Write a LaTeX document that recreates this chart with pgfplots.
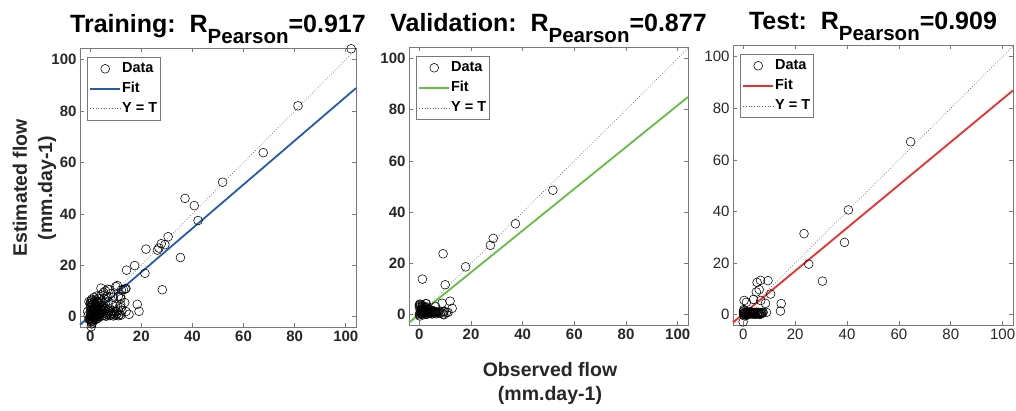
\documentclass[border=0pt]{standalone}
\usepackage{fontspec}
\setmainfont{Liberation Sans}
\usepackage{pgfplots}
\pgfplotsset{compat=1.18}

\definecolor{fitblue}{RGB}{35,90,175}
\definecolor{fitgreen}{RGB}{100,190,65}
\definecolor{fitred}{RGB}{240,45,45}
\definecolor{axgray}{RGB}{120,120,120}
\definecolor{txtgray}{RGB}{38,38,38}

\pgfplotsset{
  regr/.style={
    scale only axis,
    xmin=-4, xmax=104, ymin=-4, ymax=104.5,
    xtick={0,20,...,100}, ytick={0,20,...,100},
    axis line style={axgray, line width=0.6pt},
    major tick style={axgray, line width=0.6pt},
    major tick length=4pt,
    tick label style={font=\fontsize{15}{15}\selectfont\bfseries, text=txtgray},
    /pgf/number format/assume math mode=true,
    clip=false,
    title style={at={(0.5,1)}, anchor=base, yshift=9.5pt,
      font=\fontsize{25}{25}\selectfont\bfseries},
    legend style={at={(0,1)}, anchor=north west, xshift=7pt, yshift=-9pt,
      draw=axgray, line width=0.6pt, inner xsep=2pt, inner ysep=3.5pt,
      row sep=4pt,
      font=\fontsize{14.5}{14.5}\selectfont\bfseries,
      nodes={inner sep=1pt, text height=11pt, text depth=3pt}},
    legend cell align=left,
    legend image code/.code={\draw[mark repeat=2,mark phase=2,##1]
      plot coordinates {(0pt,0pt) (15pt,0pt) (30pt,0pt)};},
  },
  datamk/.style={only marks, mark=o, mark size=4.4pt,
    mark options={black, line width=0.55pt}},
  ytline/.style={black!65, line width=0.6pt, dash pattern=on 0.7pt off 2pt},
}

\newcommand{\rp}{R\raisebox{-11pt}{\fontsize{20.5}{20.5}\selectfont Pearson}}

\begin{document}
\begin{tikzpicture}
\useasboundingbox (0,0) rectangle (1016pt,410pt);

% ---------- Training ----------
\begin{axis}[regr, at={(80pt,83pt)}, anchor=south west,
  width=276pt, height=279pt,
  title={Training:\ \ \rp=0.917}]
\addplot[datamk] coordinates {
  (102.1,104.2) (81.3,82.0) (67.7,63.8) (51.8,52.3) (37.1,46.0) (40.7,43.2)
  (42.2,37.4) (35.3,23.0) (30.5,31.1) (29.2,28.0) (27.8,28.4) (26.9,26.7)
  (26.3,25.9) (21.8,26.3) (21.4,16.9) (17.4,19.9) (14.2,18.1) (28.2,10.5)
  (13.7,10.8) (10.6,12.1) (18.4,4.8) (19.1,2.1) (15.2,0.9) (12.4,2.3)
  (11.9,4.6) (11.9,7.8) (12.2,10.4) (10.0,11.7) (4.2,11.1) (6.8,10.7)
  (0.4,-3.9) (-0.5,5.9)
  (0,0) (0.3,0.5) (0.5,-0.5) (0.8,1) (1,0.2) (1.2,-1) (1.5,0.6) (1.8,1.5)
  (2,0) (2.2,0.8) (2.5,-0.3) (2.8,1.2) (3,0.4) (3.3,2) (3.6,0.1) (4,0.9)
  (4.3,1.6) (4.6,0.3) (5,1.1) (5.4,0.5) (5.8,1.4) (6.2,0.2) (6.6,0.9)
  (7,1.5) (7.4,0.4) (7.8,1) (8.2,0.6) (8.6,1.3) (9,0.3) (9.5,0.8) (10,0.5)
  (10.5,1.2) (11,0.4) (11.5,0.9) (12,0.6)
  (0,2) (0,3.5) (0,5) (0.2,6) (0.5,3) (0.7,4.5) (1,2.5) (1,6.5) (1.3,4)
  (1.5,7.5) (1.7,3) (2,5) (2.2,6.5) (2.5,8) (2.8,4) (3,6) (3.2,7.2) (3.5,5)
  (3.8,3.5) (4,7) (4.2,8.5) (4.5,6) (5,4.5) (5.2,9.5) (5.5,7) (6,5.5) (6,10)
  (6.5,8) (7,6) (7.5,10.5) (8,9) (8.5,5) (9,7.5) (10,4) (11,8) (11,2.5)
  (12,7) (12,3.5) (13,10.5) (13.5,5.5) (14,2) (14,11)
  (0,-1) (0.3,-2) (0.5,-2.8) (1,-1.5) (-0.5,-1) (-0.8,0.5) (-1,2)
  (0.1,0.3) (0.2,1.2) (0.4,2.2) (0.6,0.9) (0.9,1.8) (1.1,3.2) (1.4,2.3)
  (1.6,0.2) (1.9,2.8) (2.1,1.2) (2.4,3.5) (2.6,1.9) (0.1,4.2) (0.3,5.3)
  (0.6,6.8) (0.8,5.5) (1.2,5) (1.6,5.8) (1.9,4.1) (2.3,4.4) (2.7,5.6)
  (3.1,2.7) (3.4,4.2) (3.7,1.2) (4.1,2.5) (4.4,3.8) (4.8,2.2) (5.2,3)
  (5.6,2.4) (6,3.2) (6.4,1.8) (6.8,2.6) (7.2,2.1) (7.6,3) (8,2) (8.8,2.4)
  (9.4,1.8) (10.2,2) (0.2,-1.3) (0.7,-1.8) (1.3,-0.4) (1.8,-0.8) (2.4,-1)
  (3,-0.6) (0.9,-2.4) (0.1,-0.6)
};
\addlegendentry{Data}
\addplot[fitblue, line width=1.8pt] coordinates {(-4,-3.1) (104,88.9)};
\addlegendentry{Fit}
\addplot[ytline] coordinates {(-4,-4) (104,104)};
\addlegendentry{Y = T}
\end{axis}

% ---------- Validation ----------
\begin{axis}[regr, at={(409pt,85pt)}, anchor=south west,
  width=279pt, height=278pt,
  title={Validation:\ \ \rp=0.877}]
\addplot[datamk] coordinates {
  (51.7,48.6) (37.2,35.5) (28.6,29.8) (27.5,27.1) (17.9,18.7) (9.2,23.8)
  (1.2,13.9) (10.0,11.7) (11.9,5.3) (12.7,2.5) (8.8,4.5) (11.1,0.9)
  (9.5,0) (9.2,1.3) (6.3,3.2) (2.7,4.3) (0.1,4.1)
  (0,0) (0.3,0.8) (0.5,1.5) (0.8,0.3) (1,2.2) (1.2,1) (1.5,0) (1.8,1.8)
  (2,0.6) (2.3,2.8) (2.6,1.2) (3,0.2) (3.3,1.6) (3.6,0.8) (4,2) (4.3,0.5)
  (4.7,1.3) (5,0.3) (5.4,1) (5.8,0.6) (6.2,1.2) (6.6,0.4) (0,2.8) (0,3.6)
  (0.4,4.1) (1,3.2) (1.5,2.5) (2.5,4.3) (3,3) (0.2,-0.5) (7,0.8) (8,0.5)
  (9.2,0.3) (9.6,1.3) (10.5,0.9)
  (0.2,0.4) (0.6,1.1) (0.9,1.9) (1.1,0.5) (1.4,1.4) (1.7,0.8) (2.1,1.5)
  (2.4,0.3) (2.8,2) (3.2,1) (3.5,2.4) (3.9,1.2) (4.2,0.8) (4.5,1.7)
  (4.9,0.9) (5.3,1.6) (0.7,2.6) (1.3,3.6) (1.9,3.1) (0.3,3.3) (5.7,1.3)
  (6,0.8) (6.4,0.9) (7.5,1.2) (8.4,1)
};
\addlegendentry{Data}
\addplot[fitgreen, line width=1.8pt] coordinates {(-4,-3.0) (104,85.0)};
\addlegendentry{Fit}
\addplot[ytline] coordinates {(-4,-4) (104,104)};
\addlegendentry{Y = T}
\end{axis}

% ---------- Test ----------
\begin{axis}[regr, at={(733pt,85pt)}, anchor=south west,
  width=280pt, height=280pt,
  tick label style={font=\fontsize{15}{15}\selectfont\mdseries, text=txtgray},
  title={Test:\ \ \rp=0.909}]
\addplot[datamk] coordinates {
  (64.5,67.0) (40.5,40.6) (39.0,28.0) (23.4,31.4) (25.2,19.6) (30.5,13.0)
  (9.5,13.2) (6.6,13.3) (5.3,12.5) (6.1,9.7) (5.0,8.8) (10.5,8.0) (8.5,4.4)
  (6.7,5.5) (3.9,5.9) (0.3,5.5) (1.2,4.8) (14.6,4.3) (14.3,1.4) (8.9,0.9)
  (7.6,0.9) (-0.1,-2.8)
  (0,0) (0.3,0.6) (0.6,0.2) (1,0.9) (1.3,0.3) (1.6,1) (2,0.1) (2.3,0.7)
  (2.7,1.1) (3,0.3) (3.4,0.8) (3.8,0.2) (4.2,0.9) (4.6,0.4) (5,1) (5.4,0.5)
  (5.8,0.9) (6.2,0.3) (6.6,0.8) (7,0.5) (7.5,0.9) (0,1.2) (0.2,1.5)
  (1,-0.3) (0.5,-0.5)
  (0.1,0.4) (0.4,0.9) (0.8,0.5) (1.1,0.1) (1.5,0.6) (1.8,0.4) (2.2,1)
  (2.5,0.4) (2.9,0.7) (3.2,1) (3.6,0.5) (4,0.6) (4.4,0.2) (4.8,0.7)
  (5.2,0.2) (5.6,0.7) (6,0.6) (6.4,0.1) (6.8,0.3) (7.2,0.7) (0.2,2)
};
\addlegendentry{Data}
\addplot[fitred, line width=1.8pt] coordinates {(-4,-3.0) (104,86.9)};
\addlegendentry{Fit}
\addplot[ytline] coordinates {(-4,-4) (104,104)};
\addlegendentry{Y = T}
\end{axis}

% ---------- shared labels ----------
\begin{scope}[every node/.style={font=\fontsize{19.5}{19.5}\selectfont\bfseries, text=txtgray}]
\node[rotate=90] at (20pt,222pt) {Estimated flow};
\node[rotate=90] at (47pt,222pt) {(mm.day-1)};
\node at (550pt,40pt) {Observed flow};
\node at (550pt,15pt) {(mm.day-1)};
\end{scope}
\end{tikzpicture}
\end{document}
